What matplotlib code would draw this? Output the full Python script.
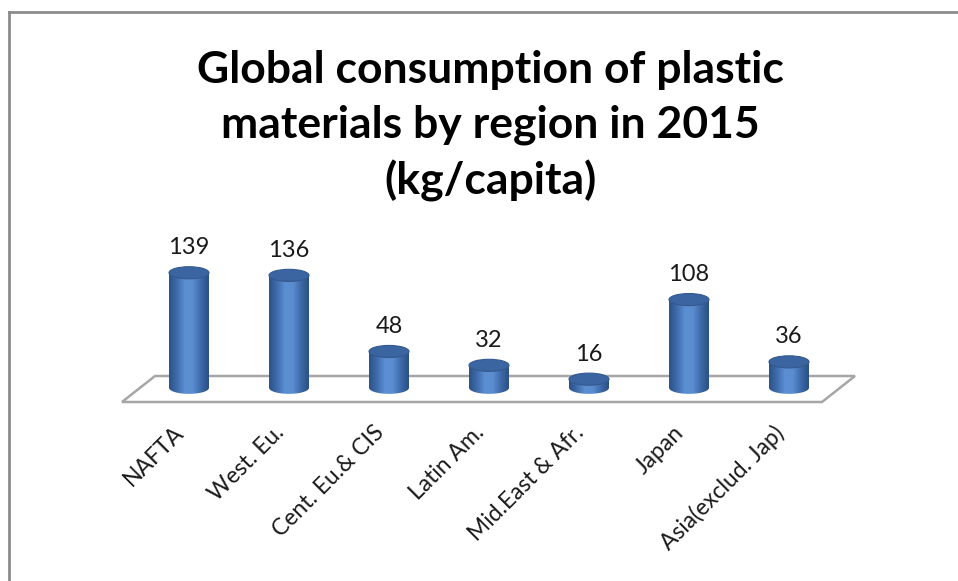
import numpy as np
import matplotlib
matplotlib.use("Agg")
import matplotlib.pyplot as plt
from matplotlib.patches import Ellipse, Polygon, PathPatch
from matplotlib.path import Path
from matplotlib.colors import LinearSegmentedColormap

regions = ["NAFTA", "West. Eu.", "Cent. Eu.& CIS", "Latin Am.",
           "Mid.East & Afr.", "Japan", "Asia(exclud. Jap)"]
kg_per_capita = [139, 136, 48, 32, 16, 108, 36]
title = "Global consumption of plastic\nmaterials by region in 2015\n(kg/capita)"

plt.rcParams['font.family'] = ['Lato', 'DejaVu Sans']

W, H = 958, 581
fig = plt.figure(figsize=(W / 100, H / 100), dpi=100)
ax = fig.add_axes([0, 0, 1, 1])

# pixel mapping: category 0 at x=189px, 100px per category; value 0 at y=393px, 0.865px per unit
px_x, x0 = 100.0, 189.0
px_y, y0 = 0.865, 393.0
ax.set_xlim(-x0 / px_x, (W - x0) / px_x)
ax.set_ylim(-(H - y0) / px_y, y0 / px_y)
ax.axis("off")

# chart frame (top and left edges visible)
fig.add_artist(plt.Line2D([9 / W, 9 / W], [0, 1 - 12 / H], color="#8c8c8c", lw=2))
fig.add_artist(plt.Line2D([9 / W, 1], [1 - 12 / H, 1 - 12 / H], color="#8c8c8c", lw=2))

# floor
back, front = (y0 - 376) / px_y, (y0 - 402) / px_y
floor = Polygon([(-0.34, back), (6.66, back), (6.33, front), (-0.67, front)],
                closed=True, facecolor="white", edgecolor="#a6a6a6", lw=1.8, zorder=1)
ax.add_patch(floor)

cmap = LinearSegmentedColormap.from_list(
    "cyl", ["#2c5286", "#3f6cab", "#5b8fd3", "#5a8dd0", "#3e6aa8", "#2a4f82"])
grad = np.linspace(0, 1, 256).reshape(1, -1)

bw = 0.40
eh = 14.0
base = 6.0
for i, v in enumerate(kg_per_capita):
    left, right = i - bw / 2, i + bw / 2
    # body outline: rectangle from top center down to base with a rounded bottom
    t = np.linspace(np.pi, 2 * np.pi, 40)
    bottom = [(i + bw / 2 * np.cos(a), base + eh / 2 * np.sin(a)) for a in t]
    verts = [(left, v)] + bottom + [(right, v), (left, v)]
    path = Path(verts, closed=True)
    body = PathPatch(path, facecolor="none", edgecolor="none")
    ax.add_patch(body)
    im = ax.imshow(grad, cmap=cmap, aspect="auto",
                   extent=[left, right, base - eh / 2, v], zorder=3)
    im.set_clip_path(body)
    top = Ellipse((i, v), bw, eh, facecolor="#3b65a0", edgecolor="#34598e",
                  lw=0.8, zorder=4)
    ax.add_patch(top)
    ax.text(i, v + 29, str(v), ha="center", va="center", fontsize=17,
            color="#1a1a1a", zorder=5)
    ax.text(i - 0.16, (y0 - 422) / px_y, regions[i], rotation=45,
            rotation_mode="anchor", ha="right", va="top", fontsize=16.5,
            color="#1a1a1a")

fig.text(490 / W, 1 - 126 / H, title, ha="center", va="center",
         fontsize=32, fontweight="bold", linespacing=1.42, color="black")

fig.savefig("out.png", dpi=100, facecolor="white")
